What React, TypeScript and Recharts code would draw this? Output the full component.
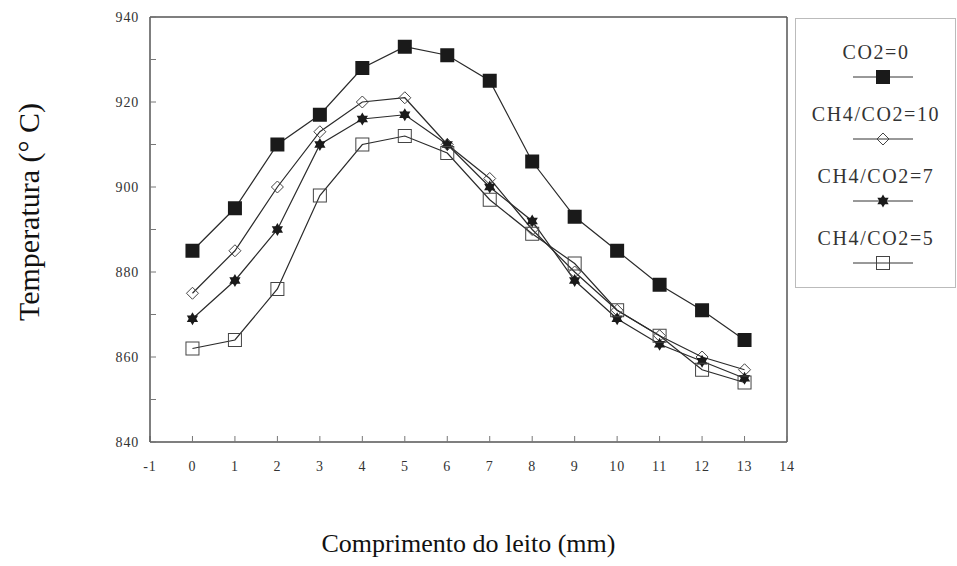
import React from "react";
import { Line, LineChart, ReferenceLine, XAxis, YAxis } from "recharts";

// Comprimento do leito (mm)
const positions = [0, 1, 2, 3, 4, 5, 6, 7, 8, 9, 10, 11, 12, 13];

// Temperatura (°C) por série
const co2Zero = [885, 895, 910, 917, 928, 933, 931, 925, 906, 893, 885, 877, 871, 864];
const ratio10 = [875, 885, 900, 913, 920, 921, 910, 902, 890, 880, 871, 865, 860, 857];
const ratio7 = [869, 878, 890, 910, 916, 917, 910, 900, 892, 878, 869, 863, 859, 855];
const ratio5 = [862, 864, 876, 898, 910, 912, 908, 897, 889, 882, 871, 865, 857, 854];

const xTicks = [-1, 0, 1, 2, 3, 4, 5, 6, 7, 8, 9, 10, 11, 12, 13, 14];
const yTicks = [840, 850, 860, 870, 880, 890, 900, 910, 920, 930, 940];

const FONT = "'Liberation Serif', 'DejaVu Serif', serif";
const INK = "#1a1a1a";
const AXIS = "#555";

type MarkerKind = "filledSquare" | "openDiamond" | "star" | "openSquare";

const series: { key: string; name: string; marker: MarkerKind }[] = [
  { key: "co2Zero", name: "CO2=0", marker: "filledSquare" },
  { key: "ratio10", name: "CH4/CO2=10", marker: "openDiamond" },
  { key: "ratio7", name: "CH4/CO2=7", marker: "star" },
  { key: "ratio5", name: "CH4/CO2=5", marker: "openSquare" },
];

const data = positions.map((x, i) => ({
  x,
  co2Zero: co2Zero[i],
  ratio10: ratio10[i],
  ratio7: ratio7[i],
  ratio5: ratio5[i],
}));

function Marker({ kind, cx, cy }: { kind: MarkerKind; cx: number; cy: number }) {
  if (kind === "filledSquare") {
    return <rect x={cx - 7} y={cy - 7} width={14} height={14} fill={INK} />;
  }
  if (kind === "openSquare") {
    return <rect x={cx - 6.5} y={cy - 6.5} width={13} height={13} fill="none" stroke="#444" strokeWidth={1} />;
  }
  if (kind === "openDiamond") {
    const r = 6;
    return (
      <polygon
        points={`${cx},${cy - r} ${cx + r},${cy} ${cx},${cy + r} ${cx - r},${cy}`}
        fill="none"
        stroke="#444"
        strokeWidth={1}
      />
    );
  }
  // six-pointed star (two overlapping triangles)
  const r = 6.5;
  const tri = (start: number) =>
    [0, 1, 2]
      .map((k) => {
        const a = ((start + k * 120) * Math.PI) / 180;
        return `${cx + r * Math.cos(a)},${cy + r * Math.sin(a)}`;
      })
      .join(" ");
  return (
    <g fill={INK}>
      <polygon points={tri(-90)} />
      <polygon points={tri(90)} />
    </g>
  );
}

function dotFor(kind: MarkerKind) {
  return (props: any) => {
    const { cx, cy, index } = props;
    if (cx == null || cy == null) return <g key={index} />;
    return <Marker key={index} kind={kind} cx={cx} cy={cy} />;
  };
}

function LegendBox() {
  return (
    <div
      style={{
        position: "absolute",
        left: 795,
        top: 18,
        width: 161,
        height: 270,
        boxSizing: "border-box",
        border: "1px solid #bbb",
        background: "#fff",
        fontFamily: FONT,
        color: "#333",
      }}
    >
      {series.map((s, i) => (
        <div key={s.key} style={{ position: "absolute", left: 0, width: 160, top: 22 + i * 62 }}>
          <div style={{ textAlign: "center", fontSize: 20, letterSpacing: 1.6, lineHeight: "22px" }}>{s.name}</div>
          <svg width={160} height={16} style={{ display: "block", marginTop: 6 }}>
            <line x1={57} x2={117} y1={8} y2={8} stroke="#333" strokeWidth={1} />
            <Marker kind={s.marker} cx={87} cy={8} />
          </svg>
        </div>
      ))}
    </div>
  );
}

function YTitle() {
  const cx = 28;
  const cy = 212;
  return (
    <text
      x={cx}
      y={cy}
      transform={`rotate(-90 ${cx} ${cy})`}
      textAnchor="middle"
      dominantBaseline="central"
      fontFamily={FONT}
      fontSize={30}
      fill="#111"
    >
      Temperatura (° C)
    </text>
  );
}

export default function App() {
  const yTickFmt = (v: number) => (v % 20 === 0 ? String(v) : "");
  const tickStyle = { fill: "#333", fontSize: 14, fontFamily: FONT, letterSpacing: 0.8 };
  return (
    <div style={{ position: "absolute", left: 0, top: 0, width: 957, height: 566, background: "#fff" }}>
      <LineChart width={957} height={566} data={data} margin={{ top: 17, right: 170, bottom: 94, left: 90 }}>
        <XAxis
          dataKey="x"
          type="number"
          domain={[-1, 14]}
          ticks={xTicks}
          interval={0}
          height={30}
          stroke={AXIS}
          tickSize={-6}
          tickMargin={25}
          tick={tickStyle}
          axisLine={{ stroke: AXIS, strokeWidth: 1.5 }}
          tickLine={{ stroke: "#777" }}
          label={{
            value: "Comprimento do leito (mm)",
            position: "bottom",
            offset: 62,
            fill: "#111",
            fontSize: 26,
            fontFamily: FONT,
          }}
        />
        <YAxis
          type="number"
          domain={[840, 940]}
          ticks={yTicks}
          interval={0}
          width={60}
          stroke={AXIS}
          tickSize={-6}
          tickMargin={17}
          tickFormatter={yTickFmt}
          tick={tickStyle}
          axisLine={{ stroke: AXIS, strokeWidth: 1.5 }}
          tickLine={{ stroke: "#777" }}
          label={{ content: () => <YTitle /> }}
        />
        <ReferenceLine y={940} stroke={AXIS} strokeWidth={1.5} ifOverflow="visible" />
        <ReferenceLine x={14} stroke={AXIS} strokeWidth={1.5} ifOverflow="visible" />
        {series.map((s) => (
          <Line
            key={s.key}
            dataKey={s.key}
            name={s.name}
            stroke="#2a2a2a"
            strokeWidth={1.2}
            dot={dotFor(s.marker)}
            activeDot={false}
            isAnimationActive={false}
          />
        ))}
      </LineChart>
      <LegendBox />
    </div>
  );
}
